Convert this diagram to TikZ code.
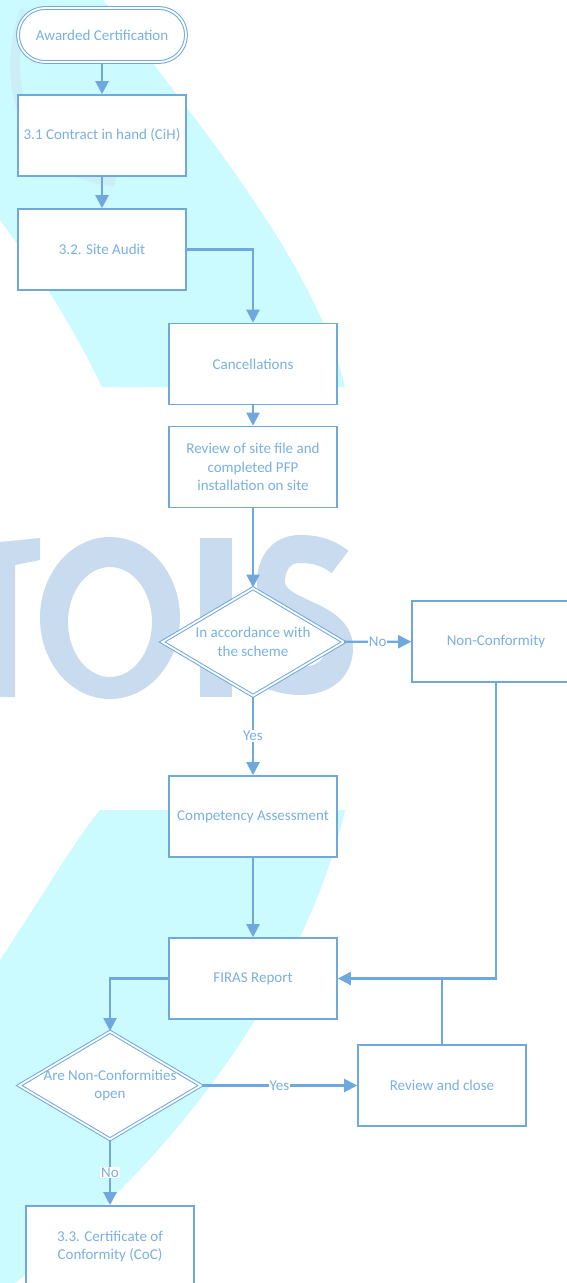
\documentclass[tikz,border=0pt]{standalone}
\usepackage{fontspec}
\setmainfont{Carlito}
\usetikzlibrary{shapes.geometric,arrows.meta}
\definecolor{flowline}{RGB}{111,168,220}
\definecolor{flowtext}{RGB}{122,176,226}
\definecolor{wmcyan}{RGB}{204,251,255}
\definecolor{wmgrey}{RGB}{201,219,239}
\begin{document}
\begin{tikzpicture}[x=1pt,y=-1pt]
\tikzset{boite/.style={draw=flowline, line width=1.6pt, fill=white, minimum width=168pt, minimum height=81pt, inner sep=0pt, text=flowtext, align=center, font=\fontsize{15}{18.5}\selectfont},
  debut/.style={boite, line width=1pt, double=white, double distance=1.8pt, rounded corners=27pt, minimum height=54pt},
  choix/.style={diamond, draw=flowline, line width=1pt, double=white, double distance=1.8pt, fill=white, inner sep=0pt, minimum width=182pt, minimum height=108pt},
  texte/.style={text=flowtext, align=center, inner sep=0pt, font=\fontsize{15}{18.5}\selectfont},
  rep/.style={fill=white, text=flowtext, inner sep=1pt, font=\fontsize{15}{16}\selectfont},
  lien/.style={draw=flowline, line width=2.2pt},
  fleche/.style={lien, -{Triangle[width=13pt,length=13pt]}}}
\useasboundingbox (0,0) rectangle (567,1283);
\fill[white] (0,0) rectangle (567,1283);
\fill[wmcyan] (0,0) -- (103,0) .. controls (230,160) and (320,280) .. (345,387) -- (102,387) .. controls (70,320) and (30,260) .. (0,220) -- cycle;
\fill[wmcyan] (100,810) -- (345,810) .. controls (310,960) and (200,1140) .. (15,1283) -- (0,1283) -- (0,960) .. controls (40,900) and (75,840) .. (100,810) -- cycle;
\draw[wmgrey, opacity=0.35, line width=10pt] (25,10) .. controls (0,80) and (20,170) .. (115,182);
\fill[wmgrey] (0,542) -- (40,538) -- (40,560) -- (15,565) -- (15,697) -- (0,697) -- cycle;
\fill[wmgrey, even odd rule] (110,618) ellipse [x radius=70, y radius=81] (110,622) ellipse [x radius=42, y radius=55];
\fill[wmgrey] (200,538) rectangle (232,697);
\draw[wmgrey, line width=28pt] (340,562) .. controls (325,550) and (310,549) .. (300,549) .. controls (280,549) and (271,565) .. (271,582) .. controls (271,615) and (339,612) .. (339,648) .. controls (339,670) and (322,681) .. (300,681) .. controls (285,681) and (270,676) .. (262,670);
\node[debut] (T) at (102,35) {Awarded Certification};
\node[boite] (B1) at (102,135.5) {3.1 Contract in hand (CiH)};
\node[boite] (B2) at (102,249.5) {3.2. Site Audit};
\node[boite] (B3) at (253,364) {Cancellations};
\node[boite] (B4) at (253,467) {Review of site file and\\completed PFP\\installation on site};
\node[choix] (D1) at (253,642) {};
\node[texte] (D1t) at (D1) {In accordance with\\the scheme};
\node[boite] (NC) at (496,641.5) {Non-Conformity};
\node[boite] (B5) at (253,816.5) {Competency Assessment};
\node[boite] (B6) at (253,978.5) {FIRAS Report};
\node[choix] (D2) at (110,1085.5) {};
\node[texte] (D2t) at (D2) {Are Non-Conformities\\open};
\node[boite] (RC) at (442,1085.5) {Review and close};
\node[boite] (CC) at (110,1246.5) {3.3. Certificate of\\Conformity (CoC)};
\draw[fleche] (T) -- (B1);
\draw[fleche] (B1) -- (B2);
\draw[fleche] (B2) -| (B3);
\draw[fleche] (B3) -- (B4);
\draw[fleche] (B4) -- (D1);
\draw[fleche] (D1) -- node[rep] {No} (NC);
\draw[fleche] (D1) -- node[rep] {Yes} (B5);
\draw[fleche] (B5) -- (B6);
\draw[fleche] (NC) |- (B6);
\draw[lien] (RC) -- (RC |- B6);
\draw[fleche] (B6) -| (D2);
\draw[fleche] (D2) -- node[rep] {Yes} (RC);
\draw[fleche] (D2) -- node[rep] {No} (CC);
\end{tikzpicture}
\end{document}
